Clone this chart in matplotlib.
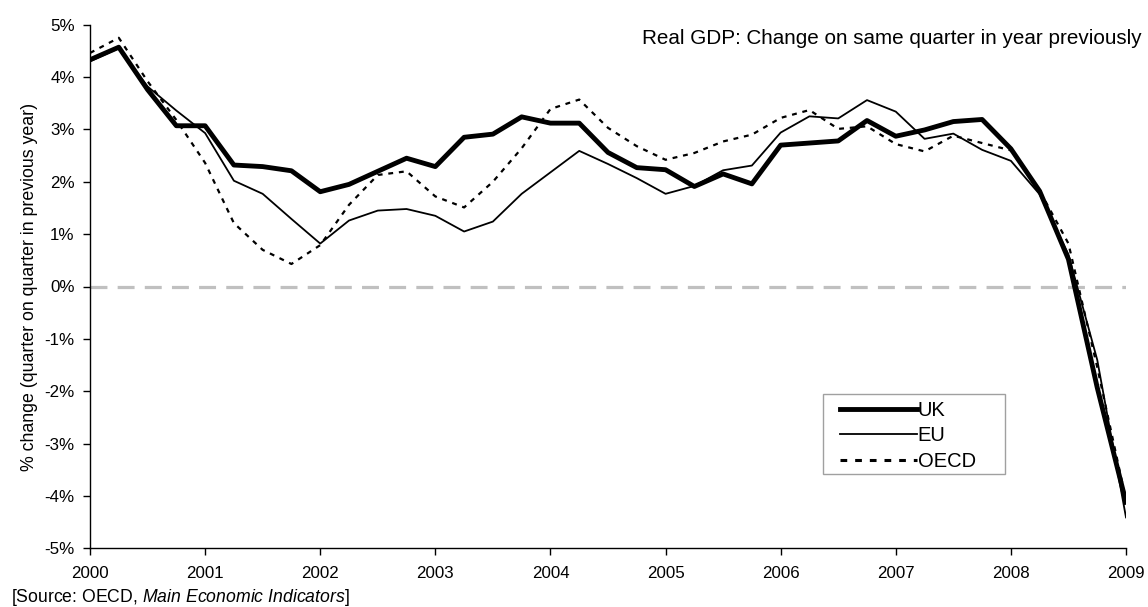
import numpy as np
import matplotlib
matplotlib.use("Agg")
import matplotlib.pyplot as plt
from matplotlib.patches import Rectangle
from matplotlib.ticker import FuncFormatter, MultipleLocator

plt.rcParams['font.family'] = ['Liberation Sans', 'DejaVu Sans']
plt.rcParams['mathtext.fontset'] = 'custom'
plt.rcParams['mathtext.it'] = 'Liberation Sans:italic'
plt.rcParams['mathtext.rm'] = 'Liberation Sans'

# quarterly, 2000 Q1 .. 2009 Q1 (year-on-year % change)
quarters = [2000 + 0.25 * i for i in range(37)]

uk = [4.33, 4.57, 3.76, 3.07, 3.07, 2.32, 2.29, 2.21, 1.81, 1.95, 2.20, 2.45,
      2.29, 2.85, 2.91, 3.24, 3.12, 3.12, 2.56, 2.27, 2.23, 1.91, 2.15, 1.96,
      2.70, 2.74, 2.78, 3.17, 2.87, 2.99, 3.15, 3.19, 2.63, 1.82, 0.52, -1.93, -4.12]

eu = [4.30, 4.55, 3.82, 3.36, 2.93, 2.02, 1.77, 1.29, 0.82, 1.26, 1.45, 1.48,
      1.35, 1.05, 1.24, 1.77, 2.18, 2.59, 2.34, 2.07, 1.77, 1.92, 2.22, 2.31,
      2.94, 3.25, 3.21, 3.56, 3.34, 2.82, 2.92, 2.61, 2.40, 1.76, 0.61, -1.40, -4.41]

oecd = [4.46, 4.75, 3.92, 3.18, 2.36, 1.21, 0.70, 0.43, 0.79, 1.56, 2.13, 2.20,
        1.72, 1.51, 2.00, 2.64, 3.39, 3.57, 3.03, 2.68, 2.42, 2.55, 2.77, 2.90,
        3.22, 3.37, 3.01, 3.06, 2.72, 2.58, 2.88, 2.74, 2.60, 1.83, 0.82, -1.54, -4.08]

years = list(range(2000, 2010))
fs = 12.2
W, H = 1148, 607

fig = plt.figure(figsize=(W / 100, H / 100), dpi=100)
ax = fig.add_axes([90 / W, 1 - 548.3 / H, (1126 - 90) / W, (548.3 - 24.7) / H])

# zero line
ax.axhline(0, color='#c0c0c0', lw=2.3, dashes=(5.3, 3.2), zorder=1)

ax.plot(quarters, uk, color='black', lw=3.5, solid_joinstyle='round', label='UK', zorder=3)
ax.plot(quarters, eu, color='black', lw=1.3, label='EU', zorder=4)
ax.plot(quarters, oecd, color='black', lw=1.6, dashes=(2.2, 2.6), label='OECD', zorder=2)

ax.set_xlim(2000, 2009)
ax.set_ylim(-5, 5)
ax.set_xticks(years)
ax.set_xticklabels([str(y) for y in years])
ax.yaxis.set_major_locator(MultipleLocator(1))
ax.yaxis.set_major_formatter(FuncFormatter(lambda v, p: f"{v:.0f}%"))
ax.tick_params(direction='out', length=5, width=1, labelsize=fs, pad=6)
ax.tick_params(axis='x', pad=8)
for s in ('top', 'right'):
    ax.spines[s].set_visible(False)
for s in ('left', 'bottom'):
    ax.spines[s].set_linewidth(1)

ax.set_ylabel('% change (quarter on quarter in previous year)', fontsize=12.8, labelpad=5)

fig.text(1142 / W, 1 - 38 / H, 'Real GDP: Change on same quarter in year previously',
         ha='right', va='center', fontsize=14.9)
fig.text(11 / W, 1 - 598 / H, r'[Source: OECD, $\it{Main\ Economic\ Indicators}$]',
         ha='left', va='center', fontsize=12.7)

# legend (frame drawn separately so the side padding can be wider than the top)
leg = ax.legend(loc='upper left', bbox_to_anchor=(840 / W, 1 - 401 / H),
                bbox_transform=fig.transFigure, fontsize=14.5, frameon=False,
                handlelength=3.8, handletextpad=0.05,
                labelspacing=0.32, borderpad=0, borderaxespad=0)
leg.get_lines()[2].set_linewidth(2.2)
fig.patches.append(Rectangle((823 / W, 1 - 474 / H), (1005 - 823) / W, 80 / H,
                             transform=fig.transFigure, fill=False,
                             edgecolor='#a0a0a0', lw=1, zorder=5))

fig.savefig('out.png', dpi=100)
